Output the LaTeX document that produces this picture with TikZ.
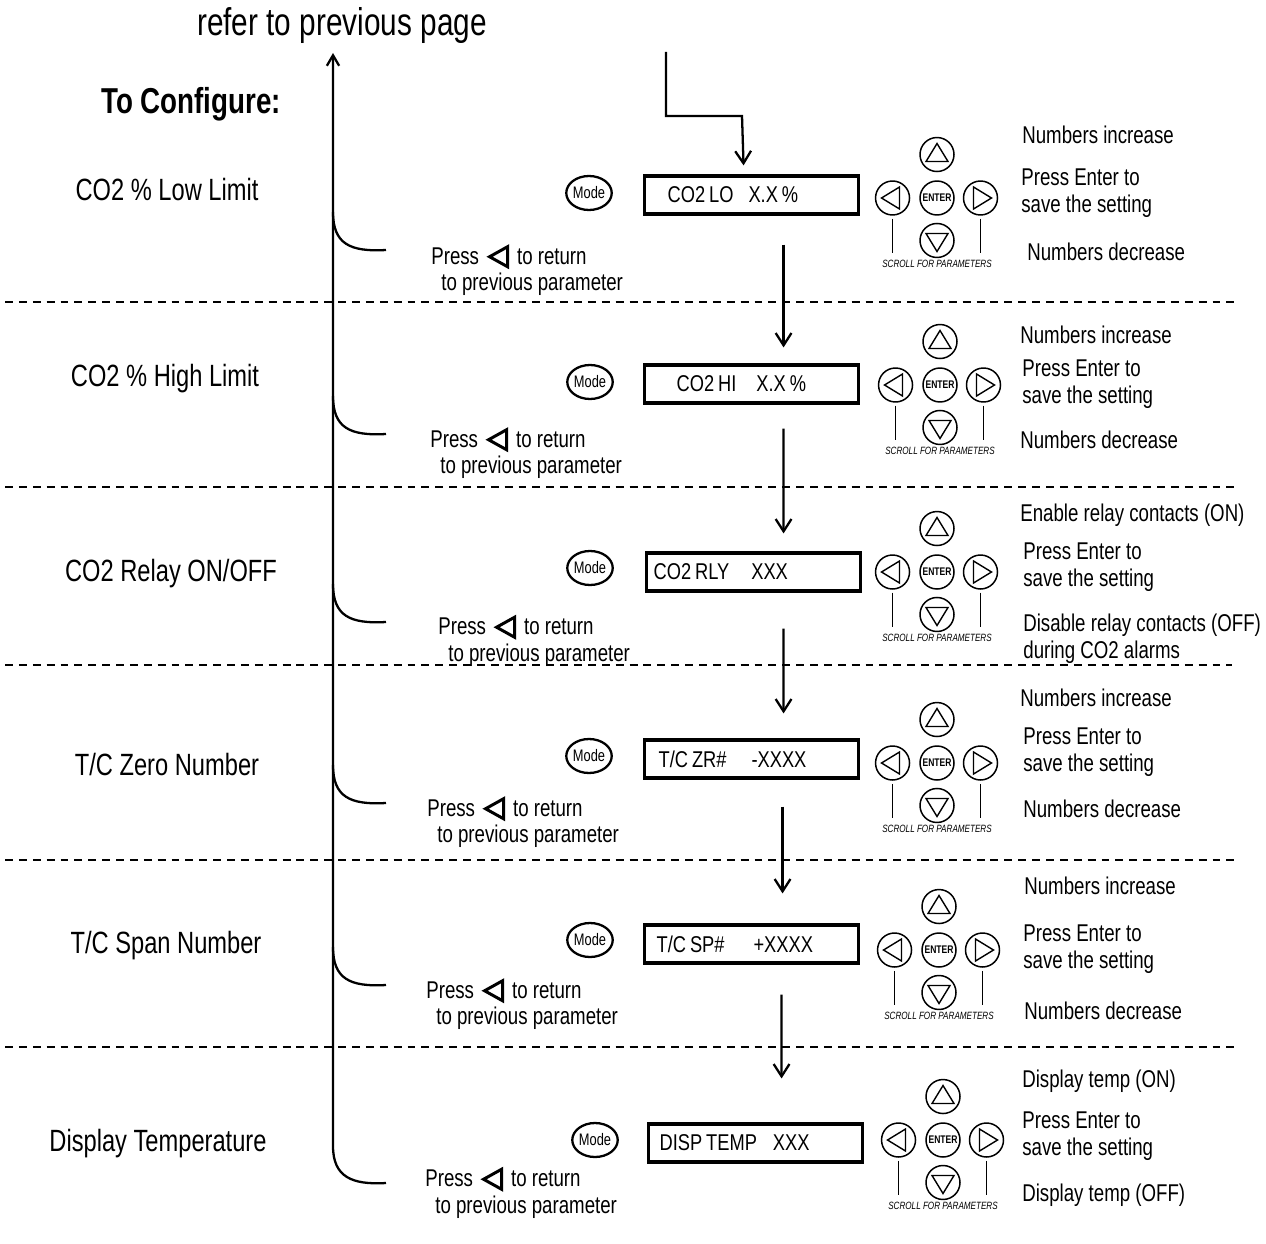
\documentclass[tikz,border=0pt]{standalone}
\usepackage{fontspec}
\setmainfont[FakeStretch=0.77]{Liberation Sans}
\newfontfamily\dispfont[FakeStretch=0.8]{Liberation Sans}
\usetikzlibrary{positioning,arrows.meta,shapes.geometric}
\newlength\pxl
\setlength\pxl{0.02cm}
\newcommand{\backtri}{\tikz[baseline={(0,-0.3em)}]\draw[line width=1.7pt,line join=miter]
  (0,0) -- (0.36cm,0.2cm) -- (0.36cm,-0.2cm) -- cycle;}
\newcommand{\retnote}{Press\hspace{9\pxl}\backtri\hspace{8\pxl}to return\\\hspace*{10\pxl}to previous parameter}
\newcommand{\gap}{\hspace{4\pxl}}
% keypad: name, centre of the ENTER key
\newcommand{\keypad}[2]{%
  \node[btn] (#1e) at (#2) {\fontsize{6.3}{7}\selectfont\bfseries ENTER};
  \node[btn,above=0.16cm of #1e] (#1u) {};
  \node[btn,below=0.14cm of #1e] (#1d) {};
  \node[btn,left=0.18cm of #1e] (#1l) {};
  \node[btn,right=0.16cm of #1e] (#1r) {};
  \draw[tri] ([shift={(-11,7)}]#1u.center) -- ++(22,0) -- ++(-11,-18) -- cycle;
  \draw[tri] ([shift={(-11,-7)}]#1d.center) -- ++(22,0) -- ++(-11,18) -- cycle;
  \draw[tri] ([shift={(7,-11)}]#1l.center) -- ++(0,22) -- ++(-18,-11) -- cycle;
  \draw[tri] ([shift={(-7,-11)}]#1r.center) -- ++(0,22) -- ++(18,-11) -- cycle;
  \draw[line width=0.8pt] ([yshift=-0.06cm]#1l.south) -- ([yshift=-0.74cm]#1l.south);
  \draw[line width=0.8pt] ([yshift=-0.06cm]#1r.south) -- ([yshift=-0.74cm]#1r.south);
  \node[scroll] (#1s) at ([yshift=-1.32cm]#1e.center) {SCROLL FOR PARAMETERS};
}
\begin{document}
\begin{tikzpicture}[x=0.02cm,y=-0.02cm,
  line/.style={line width=1.3pt},
  flow/.style={line width=1.3pt,-{Straight Barb[length=7pt,width=9pt]}},
  sep/.style={line width=0.7pt,dash pattern=on 4.5pt off 3.4pt},
  disp/.style={draw,anchor=west,line width=1.8pt,text width=4cm,inner xsep=0.14cm,
    minimum height=0.76cm,inner ysep=0pt,align=left,font=\dispfont\fontsize{13}{14}\selectfont},
  mode/.style={draw,ellipse,line width=1.3pt,minimum width=0.9cm,minimum height=0.68cm,
    inner sep=0pt,font=\fontsize{9.5}{10}\selectfont},
  btn/.style={draw,circle,line width=0.85pt,minimum size=0.68cm,inner sep=0pt},
  tri/.style={line width=0.8pt,line join=miter},
  lbl/.style={font=\fontsize{17.5}{20}\selectfont},
  note/.style={anchor=west,align=left,inner sep=0pt,font=\fontsize{13.8}{15.2}\selectfont},
  scroll/.style={inner sep=0pt,font=\fontsize{6}{7}\selectfont\itshape}]
\useasboundingbox (0,0) rectangle (1266,1243);

% heading
\node[font=\fontsize{22}{24}\selectfont] (prev) at (342,26) {refer to previous page};
\node[font=\fontsize{20.5}{22}\selectfont\bfseries] (conf) at (191,104) {To Configure:};

% separators
\draw[sep] (5,302) -- (1240,302);
\draw[sep] (5,487) -- (1240,487);
\draw[sep] (5,665) -- (1232,665);
\draw[sep] (5,860) -- (1240,860);
\draw[sep] (5,1047) -- (1240,1047);

% CO2 low limit
\node[lbl] (l1) at (167,190) {CO2 \% Low Limit};
\node[mode] (m1) at (589,193) {Mode};
\node[disp] (b1) at (643,195) {\hspace*{16\pxl}CO2\gap LO\hspace{15\pxl}X.X\gap\%};
\keypad{k1}{937,198}
\node[note] (n1a) at (1022,135) {Numbers increase};
\node[note] (n1b) at (1021,193.5) {Press Enter to\\save the setting};
\node[note] (n1c) at (1027,252) {Numbers decrease};
\node[note] (r1) at (431,270.5) {\retnote};
\coordinate (c1) at (386,250);

% CO2 high limit
\node[lbl] (l2) at (165,379) {CO2 \% High Limit};
\node[mode] (m2) at (590,382) {Mode};
\node[disp] (b2) at (643,384) {\hspace*{25\pxl}CO2\gap HI\hspace{20\pxl}X.X\gap\%};
\keypad{k2}{940,385}
\node[note] (n2a) at (1020,335) {Numbers increase};
\node[note] (n2b) at (1022,384.5) {Press Enter to\\save the setting};
\node[note] (n2c) at (1020,440) {Numbers decrease};
\node[note] (r2) at (430,453.5) {\retnote};
\coordinate (c2) at (386,434);

% CO2 relay
\node[lbl] (l3) at (171,574) {CO2 Relay ON/OFF};
\node[mode] (m3) at (590,568) {Mode};
\node[disp] (b3) at (645,572) {CO2\gap RLY\hspace{22\pxl}XXX};
\keypad{k3}{937,572}
\node[note] (n3a) at (1020,515) {Enable relay contacts (ON)};
\node[note] (n3b) at (1023,567.5) {Press Enter to\\save the setting};
\node[note] (n3c) at (1023,639) {Disable relay contacts (OFF)\\during CO2 alarms};
\node[note] (r3) at (438,641) {\retnote};
\coordinate (c3) at (386,622);

% T/C zero
\node[lbl] (l4) at (167,765) {T/C Zero Number};
\node[mode] (m4) at (589,756) {Mode};
\node[disp] (b4) at (643,759) {\hspace*{7\pxl}T/C\gap ZR\#\hspace{25\pxl}-XXXX};
\keypad{k4}{937,763}
\node[note] (n4a) at (1020,698) {Numbers increase};
\node[note] (n4b) at (1023,752.5) {Press Enter to\\save the setting};
\node[note] (n4c) at (1023,809) {Numbers decrease};
\node[note] (r4) at (427,822.5) {\retnote};
\coordinate (c4) at (386,803);

% T/C span
\node[lbl] (l5) at (166,946) {T/C Span Number};
\node[mode] (m5) at (590,940) {Mode};
\node[disp] (b5) at (643,944) {\hspace*{5\pxl}T/C\gap SP\#\hspace{29\pxl}+XXXX};
\keypad{k5}{939,950}
\node[note] (n5a) at (1024,886) {Numbers increase};
\node[note] (n5b) at (1023,949.5) {Press Enter to\\save the setting};
\node[note] (n5c) at (1024,1011) {Numbers decrease};
\node[note] (r5) at (426,1004.5) {\retnote};
\coordinate (c5) at (386,985);

% display temperature
\node[lbl] (l6) at (158,1144) {Display Temperature};
\node[mode] (m6) at (595,1140) {Mode};
\node[disp] (b6) at (647,1143) {\hspace*{4\pxl}DISP\gap TEMP\hspace{16\pxl}XXX};
\keypad{k6}{943,1140}
\node[note] (n6a) at (1022,1081) {Display temp (ON)};
\node[note] (n6b) at (1022,1136.5) {Press Enter to\\save the setting};
\node[note] (n6c) at (1022,1195) {Display temp (OFF)};
\node[note] (r6) at (425,1193) {\retnote};
\coordinate (c6) at (386,1183);

% flow through the displays
\coordinate (feed) at (666,52);
\coordinate (bend) at (742,116);
\draw[flow] (feed) |- (bend) -- ([xshift=-0.16cm,yshift=0.18cm]b1.north);
\draw[flow] ([xshift=0.64cm,yshift=-0.58cm]b1.south) -- ([xshift=0.64cm,yshift=0.32cm]b2.north);
\draw[flow] ([xshift=0.64cm,yshift=-0.48cm]b2.south) -- ([xshift=0.6cm,yshift=0.36cm]b3.north);
\draw[flow] ([xshift=0.6cm,yshift=-0.72cm]b3.south) -- ([xshift=0.64cm,yshift=0.5cm]b4.north);
\draw[flow] ([xshift=0.62cm,yshift=-0.54cm]b4.south) -- ([xshift=0.62cm,yshift=0.6cm]b5.north);
\draw[flow] ([xshift=0.6cm,yshift=-0.6cm]b5.south) -- ([xshift=0.52cm,yshift=0.88cm]b6.north);

% return path
\coordinate (top) at (333,53);
\draw[line,-{Straight Barb[length=6pt,width=7pt]}] (c6) .. controls (352,1185) and (333,1177) .. (333,1146) -- (top);
\draw[line] (333,212) .. controls (333,244) and (350,252) .. (c1);
\draw[line] (333,396) .. controls (333,428) and (350,436) .. (c2);
\draw[line] (333,584) .. controls (333,616) and (350,624) .. (c3);
\draw[line] (333,765) .. controls (333,797) and (350,805) .. (c4);
\draw[line] (333,947) .. controls (333,979) and (350,987) .. (c5);
\end{tikzpicture}
\end{document}
